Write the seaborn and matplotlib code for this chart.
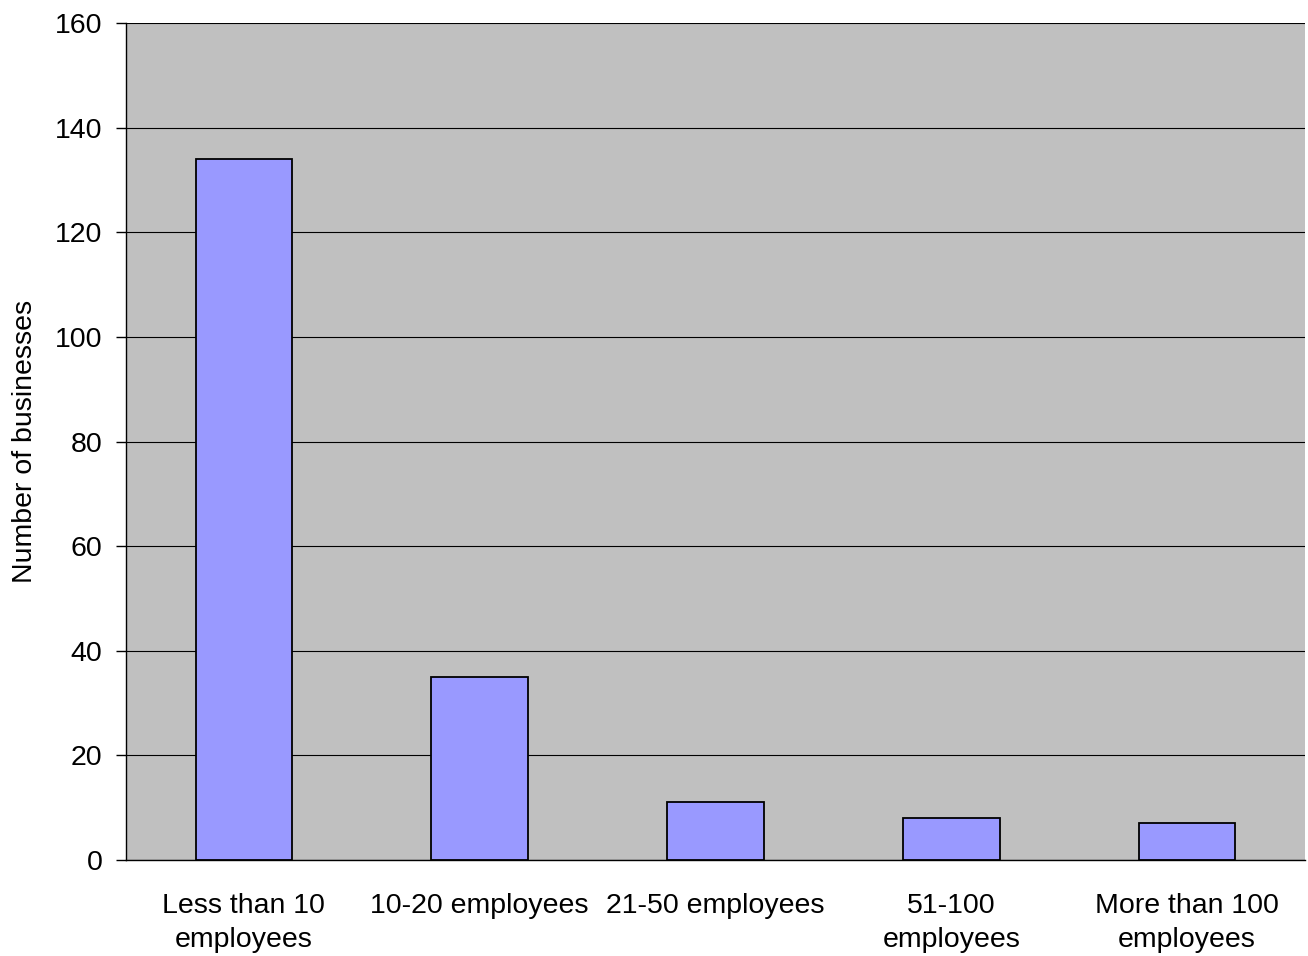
import matplotlib
matplotlib.use('Agg')
import matplotlib.pyplot as plt
import seaborn as sns
import pandas as pd

categories = ['Less than 10\nemployees', '10-20 employees', '21-50 employees',
              '51-100\nemployees', 'More than 100\nemployees']
businesses = [134, 35, 11, 8, 7]

df = pd.DataFrame({'Size': categories, 'Businesses': businesses})

sns.set_style('white')
plt.rcParams['font.family'] = ['Liberation Sans', 'DejaVu Sans']
plt.rcParams['text.color'] = 'black'
plt.rcParams['xtick.color'] = 'black'
plt.rcParams['ytick.color'] = 'black'
plt.rcParams['axes.labelcolor'] = 'black'

fig = plt.figure(figsize=(13.08, 9.56), dpi=100)
ax = fig.add_axes([0.0963, 0.1004, 0.9014, 0.8755])
ax.set_facecolor('#C0C0C0')

sns.barplot(data=df, x='Size', y='Businesses', color='#9999FF', width=0.41,
            edgecolor='black', linewidth=1.3, saturation=1, ax=ax, zorder=3)

ax.set_ylim(0, 160)
ax.set_xlim(-0.5, len(categories) - 0.5)
ax.set_yticks(range(0, 161, 20))
ax.yaxis.grid(True, color='black', linewidth=0.8, zorder=0)
ax.set_axisbelow(True)

# ticks at category boundaries, labels in between
ax.set_xticks([i - 0.5 for i in range(len(categories) + 1)], minor=True)
ax.tick_params(axis='x', which='major', length=0, pad=24, labelsize=20.5)
ax.tick_params(axis='x', which='minor', length=7, width=1, direction='out')
ax.tick_params(axis='y', length=7, width=1, direction='out', labelsize=20.5, pad=10, left=True)
for lbl in ax.get_xticklabels():
    lbl.set_linespacing(1.4)

for s in ['top', 'right']:
    ax.spines[s].set_visible(False)
for s in ['left', 'bottom']:
    ax.spines[s].set_color('black')
    ax.spines[s].set_linewidth(1)

ax.set_xlabel('')
ax.set_ylabel('Number of businesses', fontsize=20.5, labelpad=12)

fig.savefig('out.png', dpi=100)
